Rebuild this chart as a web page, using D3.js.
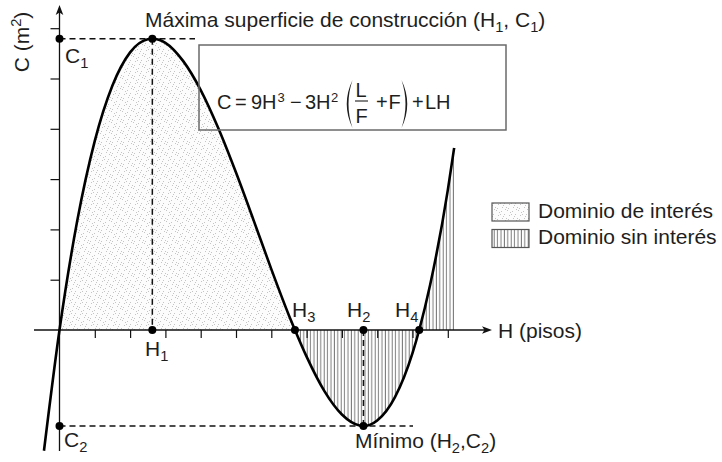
<!DOCTYPE html>
<html>
<head>
<meta charset="utf-8">
<script src="https://cdn.jsdelivr.net/npm/d3@7/dist/d3.min.js"></script>
<style>
  html, body { margin: 0; padding: 0; background: #fff; }
  svg { display: block; }
  text { font-family: "Liberation Sans", Arial, Helvetica, sans-serif; fill: #1e1e1e; }
</style>
</head>
<body>
<svg id="chart" width="722" height="462"></svg>
<script>
// Curve C(H): sampled heights (pisos) and built areas (m², axis units)
const curveH = [-0.44, 0, 0.5, 1, 1.5, 2, 2.5, 2.63, 3, 3.5, 4, 4.5, 5, 5.5, 6, 6.5, 6.67,
                7, 7.5, 8, 8.5, 8.61, 9, 9.5, 10, 10.19, 10.5, 11, 11.18];
const curveC = [-2.40, 0, 2.16, 3.76, 4.86, 5.52, 5.78, 5.79, 5.71, 5.35, 4.77, 4.01, 3.13, 2.18, 1.21, 0.29, 0,
                -0.53, -1.21, -1.68, -1.90, -1.91, -1.80, -1.34, -0.46, 0, 0.90, 2.78, 3.62];

// Remarkable points
const H1 = 2.63, C1 = 5.79;   // maximum
const H2 = 8.61, C2 = -1.91;  // minimum
const H3 = 6.67, H4 = 10.19;  // zeros of the curve

// Axis tick positions
const xTicks = [1, 2, 3, 4, 5, 6, 7, 8, 9, 10, 11];
const yTicks = [1, 2, 3, 4, 5, 6];

// Legend entries
const legendLabels = ["Dominio de interés", "Dominio sin interés"];

const FS = 21;
const svg = d3.select("#chart");
const x = d3.scaleLinear().domain([0, 11]).range([59.5, 59.5 + 11 * 35.3]);
const y = d3.scaleLinear().domain([0, 6]).range([330, 330 - 6 * 50.3]);

const pts = curveH.map((h, i) => ({ h, c: curveC[i] }));

// ---- fill patterns
const defs = svg.append("defs");
const dots = defs.append("pattern").attr("id", "stipple")
  .attr("patternUnits", "userSpaceOnUse").attr("width", 11).attr("height", 11);
dots.append("rect").attr("width", 11).attr("height", 11).attr("fill", "#fcfcfc");
[[1,1],[6,2],[9,5],[3,6],[7,9],[0,9],[4,3],[10,0],[2,10],[8,7],[5,5]].forEach(([a, b]) =>
  dots.append("rect").attr("x", a).attr("y", b).attr("width", 1).attr("height", 1).attr("fill", "#c4c4c4"));

const hatch = defs.append("pattern").attr("id", "hatch")
  .attr("patternUnits", "userSpaceOnUse").attr("width", 3.4).attr("height", 10);
hatch.append("rect").attr("width", 3.4).attr("height", 10).attr("fill", "#fff");
hatch.append("line").attr("x1", 1.2).attr("x2", 1.2).attr("y1", 0).attr("y2", 10)
  .attr("stroke", "#7a7a7a").attr("stroke-width", 1);

// ---- shaded domains
const area = d3.area().x(d => x(d.h)).y0(y(0)).y1(d => y(d.c)).curve(d3.curveMonotoneX);
svg.append("path").datum(pts.filter(d => d.h >= 0 && d.h <= H3))
  .attr("d", area).attr("fill", "url(#stipple)");
svg.append("path").datum(pts.filter(d => d.h >= H3))
  .attr("d", area).attr("fill", "url(#hatch)");

// ---- axes
const gx = svg.append("g").attr("transform", `translate(0,${y(0)})`)
  .call(d3.axisBottom(x).tickValues(xTicks).tickSize(8).tickFormat(""));
const gy = svg.append("g").attr("transform", `translate(${x(0)},0)`)
  .call(d3.axisLeft(y).tickValues(yTicks).tickSize(9).tickFormat(""));
[gx, gy].forEach(g => {
  g.select(".domain").remove();
  g.selectAll(".tick text").remove();
  g.selectAll(".tick line").attr("stroke", "#111").attr("stroke-width", 1.2);
});
svg.append("line").attr("x1", 34).attr("x2", 488).attr("y1", y(0)).attr("y2", y(0))
  .attr("stroke", "#111").attr("stroke-width", 1.3);
svg.append("line").attr("x1", x(0)).attr("x2", x(0)).attr("y1", 451).attr("y2", 10)
  .attr("stroke", "#111").attr("stroke-width", 1.3);
svg.append("path").attr("d", `M492,${y(0)} L482,${y(0) - 3.8} L484.5,${y(0)} L482,${y(0) + 3.8} Z`).attr("fill", "#111");
svg.append("path").attr("d", `M${x(0)},5 L${x(0) - 3.8},15 L${x(0)},12.5 L${x(0) + 3.8},15 Z`).attr("fill", "#111");

// ---- guide lines
const dash = (x1, y1, x2, y2) => svg.append("line")
  .attr("x1", x1).attr("y1", y1).attr("x2", x2).attr("y2", y2)
  .attr("stroke", "#111").attr("stroke-width", 1.5).attr("stroke-dasharray", "6,4");
dash(x(0), y(C1), 195, y(C1));
dash(x(H1), y(C1), x(H1), y(0));
dash(x(0), y(C2), 413, y(C2));
dash(x(H2), y(0), x(H2), y(C2));

// ---- curve
svg.append("path").datum(pts)
  .attr("d", d3.line().x(d => x(d.h)).y(d => y(d.c)).curve(d3.curveMonotoneX))
  .attr("fill", "none").attr("stroke", "#000").attr("stroke-width", 2.6);

// ---- marked points
[[0, C1], [H1, C1], [H1, 0], [H3, 0], [H2, 0], [H4, 0], [H2, C2], [0, C2]].forEach(([h, c]) =>
  svg.append("circle").attr("cx", x(h)).attr("cy", y(c)).attr("r", 4).attr("fill", "#000"));

// ---- labels with sub/superscripts
function label(tx, ty, parts, size = FS) {
  const t = svg.append("text").attr("x", tx).attr("y", ty).attr("font-size", size);
  let back = 0;
  parts.forEach(p => {
    if (typeof p === "string") {
      t.append("tspan").attr("dy", back).text(p);
      back = 0;
    } else {
      const shift = p.sub ? 5 : -8;
      t.append("tspan").attr("font-size", size * 0.7).attr("dy", back + shift).text(p.sub || p.sup);
      back = -shift;
    }
  });
  return t;
}
label(145, 27, ["Máxima superficie de construcción (H", { sub: "1" }, ", C", { sub: "1" }, ")"]);
label(65, 63, ["C", { sub: "1" }]);
label(64, 447, ["C", { sub: "2" }]);
label(145, 356, ["H", { sub: "1" }]);
label(292, 317, ["H", { sub: "3" }]);
label(347, 317, ["H", { sub: "2" }]);
label(395, 317, ["H", { sub: "4" }]);
label(355, 448, ["Mínimo (H", { sub: "2" }, ",C", { sub: "2" }, ")"]);
label(498, 338, ["H (pisos)"]);
label(0, 0, ["C (m", { sup: "2" }, ")"]).attr("text-anchor", "middle")
  .attr("transform", "translate(29,42) rotate(-90)");

// ---- formula box
svg.append("rect").attr("x", 199).attr("y", 45).attr("width", 307).attr("height", 85)
  .attr("fill", "none").attr("stroke", "#6a6a6a").attr("stroke-width", 1.5);
const fy = 109.3;
const ft = (tx, ty, s, size = 20) => svg.append("text").attr("x", tx).attr("y", ty).attr("font-size", size).text(s);
ft(217, fy, "C"); ft(235, fy, "="); ft(251, fy, "9H"); ft(277.5, 101.5, "3", 13);
ft(290, fy, "\u2212"); ft(305, fy, "3H"); ft(331, 101.5, "2", 13);
ft(355.5, 96.7, "L"); ft(355.5, 123, "F");
svg.append("line").attr("x1", 355).attr("x2", 368).attr("y1", 101).attr("y2", 101)
  .attr("stroke", "#1e1e1e").attr("stroke-width", 1.1);
ft(376, fy, "+"); ft(388.5, fy, "F"); ft(412, fy, "+"); ft(425, fy, "LH");
svg.append("path").attr("d", "M352.5,80 Q341,104 352.5,128 Q344.5,104 352.5,80 Z").attr("fill", "#1e1e1e");
svg.append("path").attr("d", "M401.5,80 Q413,104 401.5,128 Q409.5,104 401.5,80 Z").attr("fill", "#1e1e1e");

// ---- legend
const lg = svg.append("g");
legendLabels.forEach((s, i) => {
  const ly = [203, 229.5][i];
  lg.append("rect").attr("x", 492).attr("y", ly).attr("width", 37).attr("height", 18)
    .attr("fill", i === 0 ? "url(#stipple)" : "url(#hatch)")
    .attr("stroke", "#555").attr("stroke-width", 1.2);
  lg.append("text").attr("x", 538).attr("y", [217.5, 244][i]).attr("font-size", FS).text(s);
});
</script>
</body>
</html>
